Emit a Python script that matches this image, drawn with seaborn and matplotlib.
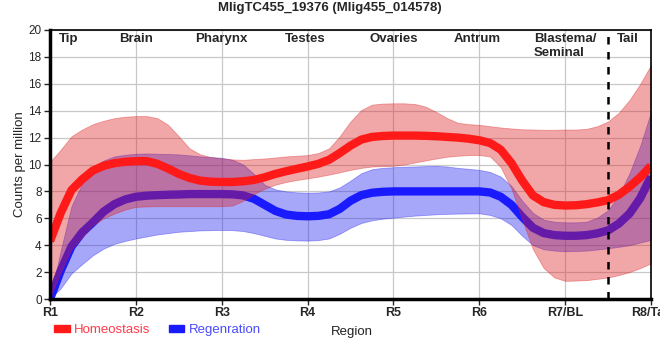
import matplotlib
matplotlib.use("Agg")
import matplotlib.pyplot as plt
from matplotlib.patches import Patch
import pandas as pd
import seaborn as sns

# positions along the body, every 1/8 of a region (R1 = 1 ... R8 = 8)
pos = [1 + i / 8 for i in range(57)]

# values, one row per region
homeo_mean = [4.3, 6.4, 8.1, 8.9, 9.55, 9.9, 10.1, 10.2,
              10.25, 10.25, 10.05, 9.7, 9.3, 9.0, 8.8, 8.72,
              8.7, 8.7, 8.75, 8.85, 9.05, 9.3, 9.5, 9.68,
              9.85, 10.05, 10.35, 10.85, 11.4, 11.85, 12.05, 12.12,
              12.15, 12.15, 12.15, 12.13, 12.1, 12.05, 12.0, 11.92,
              11.8, 11.6, 11.1, 10.1, 8.8, 7.7, 7.2, 7.0,
              6.95, 6.97, 7.05, 7.18, 7.35, 7.75, 8.35, 9.05,
              9.9]
homeo_hi = [10.2, 11.1, 12.1, 12.6, 13.0, 13.25, 13.45, 13.55,
            13.6, 13.6, 13.45, 12.95, 12.1, 11.2, 10.75, 10.55,
            10.45, 10.38, 10.35, 10.4, 10.45, 10.52, 10.6, 10.65,
            10.7, 10.85, 11.2, 12.1, 13.2, 14.05, 14.45, 14.53,
            14.55, 14.55, 14.5, 14.3, 13.9, 13.45, 13.1, 13.0,
            12.95, 12.85, 12.75, 12.68, 12.62, 12.6, 12.58, 12.58,
            12.6, 12.6, 12.65, 12.85, 13.2, 13.85, 14.8, 16.0,
            17.4]
homeo_lo = [0.1, 2.0, 3.7, 4.6, 5.5, 6.0, 6.35, 6.65,
            6.85, 6.88, 6.9, 6.9, 6.9, 6.9, 6.9, 6.9,
            6.9, 6.95, 7.3, 7.8, 8.2, 8.5, 8.7, 8.85,
            8.97, 9.1, 9.25, 9.42, 9.6, 9.75, 9.85, 9.88,
            9.9, 10.0, 10.15, 10.3, 10.45, 10.58, 10.65, 10.7,
            10.7, 10.6, 9.8, 8.2, 5.9, 3.7, 2.3, 1.6,
            1.35, 1.37, 1.4, 1.5, 1.6, 1.78, 2.0, 2.3,
            2.65]

regen_mean = [0.0, 2.1, 3.9, 4.95, 5.7, 6.5, 7.05, 7.4,
              7.6, 7.68, 7.72, 7.75, 7.77, 7.8, 7.8, 7.8,
              7.8, 7.78, 7.7, 7.45, 7.0, 6.55, 6.28, 6.18,
              6.15, 6.18, 6.3, 6.7, 7.3, 7.72, 7.9, 7.97,
              8.0, 8.0, 8.0, 8.0, 8.0, 8.0, 8.0, 8.0,
              8.0, 7.92, 7.6, 7.0, 6.1, 5.3, 4.9, 4.75,
              4.7, 4.7, 4.75, 4.88, 5.1, 5.6, 6.35, 7.5,
              9.1]
regen_hi = [0.0, 3.6, 6.9, 8.6, 9.8, 10.3, 10.6, 10.72,
            10.8, 10.82, 10.8, 10.78, 10.75, 10.68, 10.6, 10.55,
            10.5, 10.35, 10.0, 9.3, 8.5, 8.15, 8.0, 7.93,
            7.9, 7.92, 8.0, 8.3, 8.8, 9.35, 9.65, 9.75,
            9.8, 9.83, 9.85, 9.88, 9.9, 9.85, 9.75, 9.68,
            9.6, 9.45, 9.1, 8.4, 7.3, 6.4, 5.9, 5.75,
            5.7, 5.7, 5.75, 6.05, 6.6, 7.7, 9.35, 11.4,
            13.9]
regen_lo = [0.0, 0.8, 1.9, 2.6, 3.25, 3.75, 4.1, 4.32,
            4.5, 4.65, 4.8, 4.9, 5.0, 5.05, 5.1, 5.12,
            5.13, 5.12, 5.05, 4.9, 4.7, 4.5, 4.4, 4.36,
            4.34, 4.38, 4.5, 4.85, 5.3, 5.65, 5.85, 5.97,
            6.05, 6.13, 6.2, 6.25, 6.3, 6.33, 6.35, 6.36,
            6.37, 6.25, 6.0, 5.5, 4.7, 4.0, 3.7, 3.6,
            3.55, 3.57, 3.6, 3.68, 3.77, 3.88, 4.0, 4.2,
            4.4]

tick_labels = ["R1", "R2", "R3", "R4", "R5", "R6", "R7/BL", "R8/Tail"]
regions = ["Tip", "Brain", "Pharynx", "Testes", "Ovaries", "Antrum", "Blastema/\nSeminal", "Tail"]
region_x = [1.22, 2, 3, 3.97, 5, 5.98, 7, 7.73]

red_line = "#ff1a1a"
blue_line = "#1a1aff"
red_band = "#dc1e1e"
blue_band = "#1e1ef0"

sns.set_style("white")
plt.rcParams["font.family"] = ["Liberation Sans", "DejaVu Sans"]

df = pd.DataFrame({"pos": pos, "homeo": homeo_mean, "regen": regen_mean})

fig = plt.figure(figsize=(6.6, 3.6), dpi=100)
ax = fig.add_axes([50 / 660, 61 / 360, 601 / 660, 269 / 360])

# order matters: blue band, blue line, red band, red line
ax.fill_between(pos, regen_lo, regen_hi, color=blue_band, alpha=0.39, lw=0.6, zorder=2)
sns.lineplot(data=df, x="pos", y="regen", color=blue_line, lw=6, ax=ax, zorder=3,
             solid_capstyle="butt")
ax.fill_between(pos, homeo_lo, homeo_hi, color=red_band, alpha=0.39, lw=0.6, zorder=4)
sns.lineplot(data=df, x="pos", y="homeo", color=red_line, lw=6, ax=ax, zorder=5,
             solid_capstyle="butt")

ax.axvline(7.5, color="black", ls=(0, (3, 3)), lw=1.8, zorder=6)

ax.set_xlim(1, 8)
ax.set_ylim(0, 20)
ax.set_xticks(range(1, 9))
ax.set_xticklabels(tick_labels, fontsize=9, fontweight="bold")
ax.set_yticks(range(0, 21, 2))
ax.tick_params(axis="y", labelsize=8.5, length=4, width=1, direction="out", pad=2, left=True)
ax.tick_params(axis="x", length=4, width=1, direction="out", pad=2, bottom=True)
ax.grid(True, color="#c8c8c8", lw=0.9, zorder=0)
ax.set_axisbelow(True)

for side in ["left", "bottom"]:
    ax.spines[side].set_linewidth(2.5)
for side in ["top", "right"]:
    ax.spines[side].set_linewidth(1.2)
for s in ax.spines.values():
    s.set_color("black")
    s.set_zorder(7)

ax.set_ylabel("Counts per million", fontsize=9.5)
ax.yaxis.set_label_coords(-0.04, 0.5)
ax.set_xlabel("Region", fontsize=9.5, color="#222222")
ax.xaxis.set_label_coords(0.503, -0.1)

for name, x in zip(regions, region_x):
    ax.text(x, 19.75, name, ha="center", va="top", fontsize=9.5, fontweight="bold",
            multialignment="left", linespacing=1.2, zorder=8)

fig.suptitle("MligTC455_19376 (Mlig455_014578)", fontsize=9.5, fontweight="bold", y=0.995)

handles = [Patch(color=red_line), Patch(color=blue_line)]
leg = fig.legend(handles, ["Homeostasis", "Regenration"], loc="center left",
                 bbox_to_anchor=(54 / 660, 1 - 330 / 360), ncol=2, frameon=False,
                 fontsize=9.5, handlelength=1.2, handleheight=0.45, handletextpad=0.3,
                 columnspacing=1.4, borderpad=0, borderaxespad=0)
leg.get_texts()[0].set_color("#ff3a4a")
leg.get_texts()[1].set_color("#4a4aff")

fig.savefig("out.png", dpi=100)
